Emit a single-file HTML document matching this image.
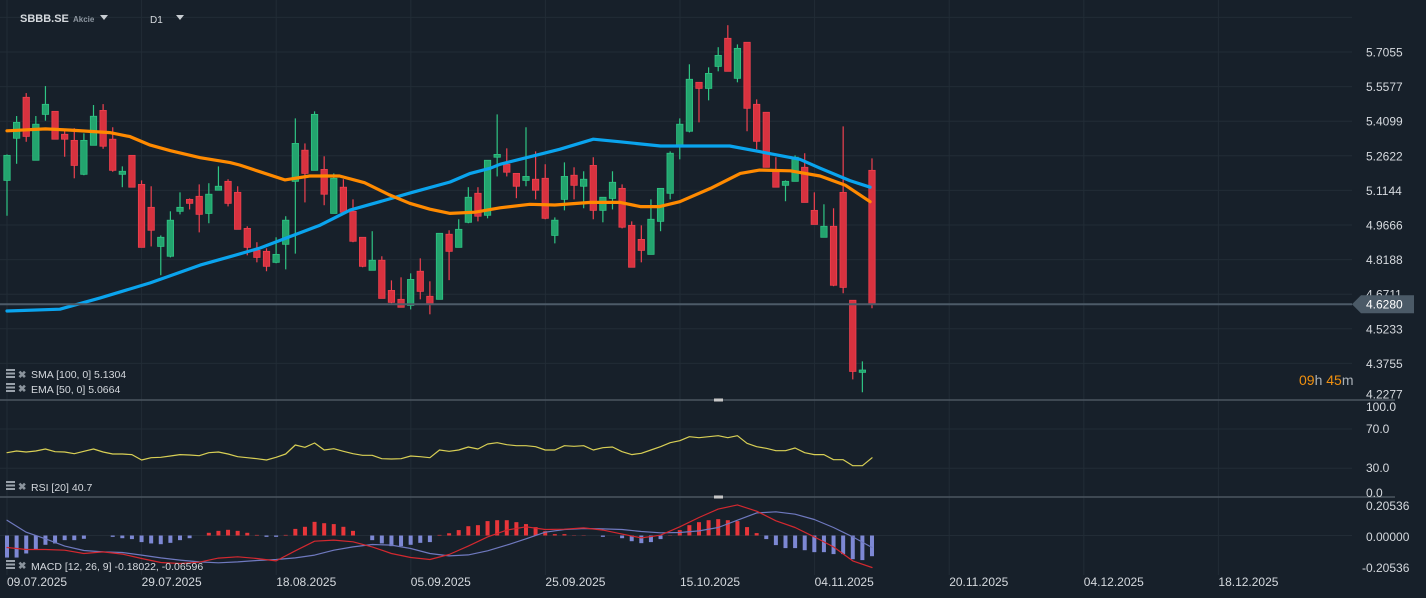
<!DOCTYPE html>
<html><head><meta charset="utf-8">
<style>
html,body{margin:0;padding:0;background:#17202a;overflow:hidden;}
svg{display:block;font-family:"Liberation Sans",sans-serif;}
</style></head>
<body>
<svg id="chart" width="1426" height="598" xmlns="http://www.w3.org/2000/svg">
<rect x="0" y="0" width="1426" height="598" fill="#17202a"/>
<g id="grid"></g>
<g id="main"></g>
<g id="rsi"></g>
<g id="macd"></g>
<g id="axes"></g>
<g id="header">
  <text x="20" y="22" fill="#d5d9de" font-size="11" font-weight="bold">SBBB.SE</text>
  <text x="73" y="22" fill="#8d96a0" font-size="8" font-weight="bold">Akcie</text>
  <polygon points="100,15 108,15 104,20" fill="#c8cdd2"/>
  <text x="150" y="23" fill="#d5d9de" font-size="10">D1</text>
  <polygon points="176,15 184,15 180,20" fill="#c8cdd2"/>
</g>
<g id="legends">
  <g>
    <rect x="6" y="369" width="9" height="2" fill="#9aa2ab"/><rect x="6" y="372.5" width="9" height="2" fill="#9aa2ab"/><rect x="6" y="376" width="9" height="2" fill="#9aa2ab"/>
    <text x="18" y="378" fill="#8a939c" font-size="10" font-weight="bold">✖</text>
    <text x="31" y="378" fill="#d5d9de" font-size="10.5">SMA [100, 0] 5.1304</text>
  </g>
  <g>
    <rect x="6" y="383" width="9" height="2" fill="#9aa2ab"/><rect x="6" y="386.5" width="9" height="2" fill="#9aa2ab"/><rect x="6" y="390" width="9" height="2" fill="#9aa2ab"/>
    <text x="18" y="392" fill="#8a939c" font-size="10" font-weight="bold">✖</text>
    <text x="31" y="393" fill="#d5d9de" font-size="10.5">EMA [50, 0] 5.0664</text>
  </g>
  <g>
    <rect x="6" y="481" width="9" height="2" fill="#9aa2ab"/><rect x="6" y="484.5" width="9" height="2" fill="#9aa2ab"/><rect x="6" y="488" width="9" height="2" fill="#9aa2ab"/>
    <text x="18" y="490" fill="#8a939c" font-size="10" font-weight="bold">✖</text>
    <text x="31" y="491" fill="#d5d9de" font-size="10.5">RSI [20] 40.7</text>
  </g>
  <g>
    <rect x="6" y="560" width="9" height="2" fill="#9aa2ab"/><rect x="6" y="563.5" width="9" height="2" fill="#9aa2ab"/><rect x="6" y="567" width="9" height="2" fill="#9aa2ab"/>
    <text x="18" y="569" fill="#8a939c" font-size="10" font-weight="bold">✖</text>
    <text x="31" y="570" fill="#d5d9de" font-size="10.5">MACD [12, 26, 9] -0.18022, -0.06596</text>
  </g>
  <g>
    <text x="1299" y="385" font-size="14"><tspan fill="#f0900f">09</tspan><tspan fill="#a9b0b7">h </tspan><tspan fill="#f0900f">45</tspan><tspan fill="#a9b0b7">m</tspan></text>
  </g>
</g>
</svg>
<script>
const opens  = [5.157,5.337,5.512,5.243,5.439,5.452,5.354,5.328,5.183,5.307,5.456,5.333,5.183,5.264,5.140,5.042,4.875,4.833,5.025,5.076,5.089,5.016,5.115,5.153,5.106,4.952,4.858,4.854,4.807,4.884,5.153,5.286,5.200,5.204,5.016,5.128,5.025,4.914,4.773,4.816,4.687,4.649,4.623,4.769,4.662,4.649,4.927,4.871,4.978,5.102,5.008,5.256,5.226,5.187,5.157,5.162,5.166,4.922,5.076,5.179,5.132,5.221,5.029,5.080,5.123,4.965,4.905,4.841,4.982,5.102,5.307,5.367,5.576,5.550,5.644,5.764,5.593,5.747,5.482,5.448,5.204,5.136,5.153,5.213,5.029,4.914,4.961,5.106,4.645,4.337,5.200];
const highs  = [5.268,5.432,5.530,5.432,5.560,5.400,5.372,5.380,5.358,5.479,5.483,5.384,5.217,5.264,5.157,5.132,4.922,5.025,5.106,5.080,5.140,5.145,5.217,5.162,5.132,4.961,4.893,4.867,4.914,5.004,5.422,5.315,5.452,5.260,5.187,5.162,5.076,4.914,4.940,4.833,4.730,4.743,4.760,4.824,4.726,4.931,4.944,4.991,5.128,5.128,5.243,5.439,5.294,5.187,5.384,5.281,5.226,4.999,5.234,5.213,5.196,5.256,5.085,5.196,5.140,4.982,4.965,5.076,5.123,5.281,5.422,5.653,5.576,5.640,5.726,5.820,5.738,5.747,5.503,5.448,5.256,5.157,5.264,5.273,5.106,5.055,5.038,5.388,4.645,4.384,5.251];
const lows   = [5.006,5.228,5.322,5.243,5.412,5.333,5.258,5.166,5.179,5.307,5.292,5.194,5.128,5.128,4.871,4.875,4.752,4.828,5.012,5.033,4.935,4.974,5.115,5.046,4.948,4.837,4.807,4.769,4.803,4.777,4.844,5.063,5.200,5.051,5.016,5.021,4.893,4.786,4.773,4.653,4.632,4.615,4.606,4.649,4.585,4.649,4.731,4.871,4.974,4.982,4.995,5.174,5.174,5.081,5.132,5.076,4.991,4.888,5.029,5.076,5.038,4.991,4.978,5.033,4.952,4.786,4.807,4.841,4.940,5.076,5.247,5.362,5.405,5.499,5.623,5.623,5.576,5.367,5.290,5.213,5.128,5.068,5.153,5.063,4.969,4.914,4.705,4.675,4.307,4.252,4.611];
const closes = [5.264,5.405,5.345,5.397,5.482,5.333,5.333,5.221,5.328,5.431,5.303,5.200,5.196,5.128,4.871,4.944,4.914,4.987,5.042,5.059,5.012,5.098,5.132,5.059,4.948,4.871,4.828,4.790,4.841,4.987,5.315,5.187,5.439,5.098,5.166,5.021,4.897,4.790,4.816,4.653,4.636,4.615,4.734,4.683,4.628,4.931,4.854,4.948,5.085,5.004,5.243,5.268,5.192,5.132,5.174,5.115,4.995,4.987,5.174,5.136,5.162,5.029,5.085,5.149,4.957,4.786,4.858,4.991,5.123,5.273,5.397,5.589,5.550,5.614,5.691,5.623,5.721,5.465,5.324,5.213,5.128,5.153,5.256,5.063,4.969,4.961,4.709,4.700,4.341,4.347,4.628];
// moving averages: [candle index, value]
const smaIdx = [0,5.5,9.7,14.9,20.1,23.2,26.3,29.4,32.6,35.7,38.8,42,46.1,48.2,50.3,51.3,54.4,57.5,61,63.8,68,75.2,78.3,82.5,84.6,87.7,89.8];
const smaVal = [4.599,4.607,4.655,4.719,4.795,4.831,4.868,4.916,4.966,5.030,5.066,5.104,5.150,5.187,5.209,5.226,5.258,5.290,5.333,5.322,5.304,5.304,5.280,5.247,5.209,5.156,5.128];
const emaIdx = [0,4,6.6,10.7,12.8,14.9,17,20.1,23.2,24.2,26.3,28.9,31.5,34.6,37.2,39.8,41.9,44,46.1,48.7,51.3,54.4,57,60.7,63.8,65.9,67.9,70,73.2,76.3,78.3,81.5,84.6,87.2,89.8];
const emaVal = [5.369,5.377,5.372,5.361,5.344,5.308,5.284,5.254,5.233,5.223,5.194,5.159,5.176,5.176,5.147,5.095,5.059,5.034,5.016,5.021,5.040,5.055,5.052,5.063,5.063,5.045,5.045,5.066,5.123,5.187,5.201,5.198,5.176,5.137,5.066];
const rsiVals = [45.9,47.6,46.6,47.6,49.6,46.9,46.6,44.9,47.3,49.6,46.6,44.6,44.6,43.9,38.4,40.8,41.2,42.5,43.9,43.5,42.8,45.9,46.6,44.6,41.8,40.8,39.8,38.4,41.2,44.6,53.7,51.4,55.8,48.6,50.0,47.3,44.9,43.2,43.2,39.8,39.5,39.8,42.5,41.8,40.8,48.6,47.3,48.6,51.7,49.6,54.7,56.1,54.0,53.0,53.0,52.0,48.6,48.6,53.0,52.4,53.0,48.6,51.0,51.7,46.9,43.9,45.3,48.6,52.0,56.1,58.1,62.2,61.1,62.2,63.2,61.1,63.2,55.4,52.0,50.4,47.9,47.9,50.7,45.9,43.9,43.9,38.8,38.8,32.6,32.6,40.7];
const histVals = [-0.147,-0.147,-0.120,-0.093,-0.062,-0.053,-0.031,-0.031,-0.022,0,0,-0.009,-0.018,-0.024,-0.044,-0.053,-0.058,-0.049,-0.031,-0.018,0,0.018,0.031,0.038,0.031,0.018,0.004,-0.009,-0.009,0.004,0.044,0.058,0.091,0.082,0.076,0.058,0.031,0,-0.031,-0.053,-0.071,-0.071,-0.062,-0.049,-0.044,0.004,0.015,0.036,0.062,0.069,0.096,0.102,0.102,0.089,0.076,0.056,0.029,0.009,0.009,0.002,0.002,0,-0.009,0,-0.018,-0.038,-0.051,-0.044,-0.024,0.002,0.036,0.069,0.089,0.102,0.109,0.102,0.096,0.056,0.016,-0.024,-0.064,-0.084,-0.084,-0.098,-0.111,-0.111,-0.124,-0.124,-0.158,-0.164,-0.138];
// every second candle index (0,2,4..90)
const macdVals = [-0.080,-0.093,-0.093,-0.098,-0.120,-0.109,-0.124,-0.153,-0.180,-0.187,-0.178,-0.151,-0.142,-0.153,-0.169,-0.102,-0.038,-0.031,-0.042,-0.076,-0.120,-0.147,-0.160,-0.127,-0.071,-0.009,0.036,0.058,0.040,0.042,0.051,0.036,0.009,-0.016,0.002,0.058,0.120,0.176,0.204,0.162,0.098,0.053,-0.009,-0.076,-0.169,-0.213];
const signalVals = [0.102,0.022,-0.022,-0.071,-0.100,-0.109,-0.113,-0.131,-0.149,-0.164,-0.176,-0.182,-0.176,-0.167,-0.160,-0.149,-0.131,-0.098,-0.076,-0.060,-0.064,-0.087,-0.120,-0.136,-0.129,-0.102,-0.064,-0.022,0.022,0.040,0.047,0.044,0.040,0.027,0.018,0.020,0.031,0.053,0.102,0.151,0.158,0.142,0.107,0.053,-0.009,-0.080];
const priceTicks = ["5.7055","5.5577","5.4099","5.2622","5.1144","4.9666","4.8188","4.6711","4.5233","4.3755","4.2277"];
const dateLabels = ["09.07.2025","29.07.2025","18.08.2025","05.09.2025","25.09.2025","15.10.2025","04.11.2025","20.11.2025","04.12.2025","18.12.2025"];
const rsiTicks = ["100.0","70.0","30.0","0.0"];
const macdTicks = ["0.20536","0.00000","-0.20536"];
const lastPrice = 4.628;

const NS="http://www.w3.org/2000/svg";
function mk(tag, attrs, parent){const e=document.createElementNS(NS,tag);for(const k in attrs)e.setAttribute(k,attrs[k]);parent.appendChild(e);return e;}
const xOf = i => 7 + i*9.611;
const yP = p => 52 + (5.7055 - p)*234.1;
const yR = v => 468.3 - (v-30)*0.9825;
const yM = v => 535.5 - v*150;

const grid=document.getElementById('grid');
for(let k=0;k<10;k++){const x=7+k*134.6;
 const l=mk('line',{x1:x,y1:0,x2:x,y2:575,stroke:'#222c36','stroke-width':1},grid);
 
 }
for(let k=-1;k<10;k++){const y=52+k*34.6;
 const l=mk('line',{x1:0,y1:y,x2:1352,y2:y,stroke:'#222c36','stroke-width':1},grid);
 
 }
[yR(70),yR(30),yM(0)].forEach(y=>{const l=mk('line',{x1:0,y1:y,x2:1352,y2:y,stroke:'#222c36','stroke-width':1},grid);
 
 });

const main=document.getElementById('main');
function poly(idx, vals, color, name, g, yf, w){
 const pts=idx.map((ix,k)=>xOf(ix).toFixed(1)+','+yf(vals[k]).toFixed(1)).join(' ');
 const e=mk('polyline',{points:pts,fill:'none',stroke:color,'stroke-width':w,'stroke-linejoin':'round','stroke-linecap':'round'},g);
 
 
}
for(let i=0;i<opens.length;i++){
 const up=closes[i]>=opens[i];
 const fill=up?'#23a46e':'#d8323f', edge=up?'#2fc584':'#f0414f';
 const x=xOf(i);
 const g=mk('g',{},main);
 
 
 mk('line',{x1:x,y1:yP(highs[i]),x2:x,y2:yP(lows[i]),stroke:edge,'stroke-width':1.2},g);
 const top=yP(Math.max(opens[i],closes[i])), bot=yP(Math.min(opens[i],closes[i]));
 mk('rect',{x:x-3.2,y:top,width:6.4,height:Math.max(1.5,bot-top),fill:fill,stroke:edge,'stroke-width':0.8},g);
}
poly(smaIdx,smaVal,'#0aa4ee','sma-line',main,yP,3.2);
poly(emaIdx,emaVal,'#ff8a00','ema-line',main,yP,3.2);

const pl=mk('line',{x1:0,y1:yP(lastPrice),x2:1352,y2:yP(lastPrice),stroke:'#4d5b68','stroke-width':2},main);



const rsi=document.getElementById('rsi');
poly(rsiVals.map((v,i)=>i),rsiVals,'#d8cf55','rsi-line',rsi,yR,1.2);

const macd=document.getElementById('macd');
histVals.forEach((v,i)=>{
 const y0=yM(0), y1=yM(v);
 const r=mk('rect',{x:xOf(i)-2,y:Math.min(y0,y1),width:4,height:Math.abs(y1-y0),fill:v>=0?'#e8363a':'#7d88d4'},macd);
 
 
});
const evenIdx=macdVals.map((v,k)=>k*2);
poly(evenIdx,signalVals,'#6f79bf','macd-signal-line',macd,yM,1.2);
poly(evenIdx,macdVals,'#d3282f','macd-line',macd,yM,1.2);

const axes=document.getElementById('axes');
[400,497].forEach(y=>{const l=mk('line',{x1:0,y1:y,x2:1395,y2:y,stroke:'#4b5560','stroke-width':1.5},axes);
 
 
 const h=mk('rect',{x:714,y:y-1.5,width:9,height:3,fill:'#c8c8c8'},axes);
 
 });
priceTicks.forEach((t,k)=>{const y=Math.min(52+k*34.6,394);
 const e=mk('text',{x:1366,y:y+4.5,fill:'#d5d9de','font-size':12},axes);e.textContent=t;
 
 });
const yl=yP(lastPrice);
const tag=mk('polygon',{points:`1352,${yl} 1361,${yl-9} 1414,${yl-9} 1414,${yl+9} 1361,${yl+9}`,fill:'#4b5a67'},axes);


const tt=mk('text',{x:1366,y:yl+4.5,fill:'#ffffff','font-size':12},axes);tt.textContent=lastPrice.toFixed(4);


const rsiY=[411,433,472,497];
rsiTicks.forEach((t,k)=>{const e=mk('text',{x:1366,y:rsiY[k],fill:'#d5d9de','font-size':12},axes);e.textContent=t;
 
 });
const macdY=[510,541,572];
macdTicks.forEach((t,k)=>{const e=mk('text',{x:t[0]=='-'?1362:1366,y:macdY[k],fill:'#d5d9de','font-size':12},axes);e.textContent=t;
 
 });
dateLabels.forEach((d,k)=>{const e=mk('text',{x:7+k*134.6,y:586,fill:'#d5d9de','font-size':12},axes);e.textContent=d;
 
 });
</script>
</body></html>
